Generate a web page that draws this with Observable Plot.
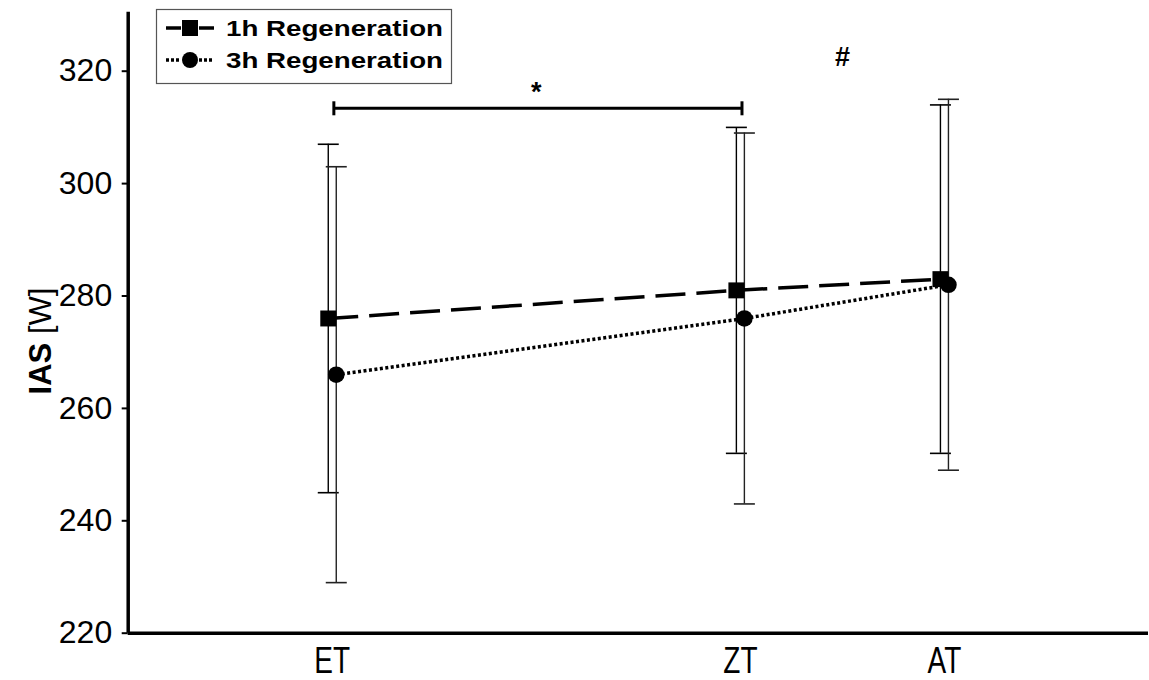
<!DOCTYPE html>
<html><head><meta charset="utf-8">
<script src="https://cdn.jsdelivr.net/npm/d3@7"></script>
<script src="https://cdn.jsdelivr.net/npm/@observablehq/plot@0.6"></script>
<style>
body{margin:0;background:#fff}
#chart svg{font-family:"Liberation Sans",Arial,sans-serif;overflow:visible}
</style>
</head><body><div id="chart"></div>
<script>
// ---- data ----
const timepoints = ["ET", "ZT", "AT"];
const xPos = [1, 3, 4];
const seriesNames = ["1h Regeneration", "3h Regeneration"];
const mean1h = [276, 281, 283];
const upper1h = [307, 310, 314];
const lower1h = [245, 252, 252];
const mean3h = [266, 276, 282];
const upper3h = [303, 309, 315];
const lower3h = [229, 243, 249];
const yTicks = [220, 240, 260, 280, 300, 320];
const bracketX = [1, 3];
const bracketY = 313.4;
const annoText = ["*", "#"];
const annoX = [2, 3.5];
const annoY = [316.2, 322.5];

const rows1 = timepoints.map((t, i) => ({t, x: xPos[i], mean: mean1h[i], lo: lower1h[i], hi: upper1h[i]}));
const rows3 = timepoints.map((t, i) => ({t, x: xPos[i], mean: mean3h[i], lo: lower3h[i], hi: upper3h[i]}));
const annos = annoText.map((s, i) => ({s, x: annoX[i], y: annoY[i]}));

const capSymbol = {draw(ctx, size) { const w = Math.sqrt(size / Math.PI); ctx.moveTo(-w, 0); ctx.lineTo(w, 0); }};
const barSymbol = {draw(ctx, size) { const w = Math.sqrt(size / Math.PI); ctx.moveTo(0, -w); ctx.lineTo(0, w); }};

function errMarks(rows, dx, color) {
  return [
    Plot.ruleX(rows, {x: "x", y1: "lo", y2: "hi", dx, stroke: color, strokeWidth: 1.4}),
    Plot.dot(rows, {x: "x", y: "hi", dx, symbol: capSymbol, r: 10.5, stroke: color, strokeWidth: 1.6, fill: "none"}),
    Plot.dot(rows, {x: "x", y: "lo", dx, symbol: capSymbol, r: 10.5, stroke: color, strokeWidth: 1.6, fill: "none"})
  ];
}

const chart = Plot.plot({
  width: 1149,
  height: 680,
  marginLeft: 127.7,
  marginRight: 1,
  marginTop: 14.5,
  marginBottom: 47.3,
  x: {domain: [0, 5], axis: null},
  y: {domain: [220, 330], axis: null},
  marks: [
    Plot.axisY({ticks: yTicks, tickSize: 6, tickPadding: 10, fontSize: 32, label: null, strokeWidth: 2, color: "#000"}),
    Plot.axisX({ticks: xPos, tickFormat: d => timepoints[xPos.indexOf(d)], tickSize: 0, tickPadding: 14, fontSize: 28, label: null, color: "#000"}),
    ...errMarks(rows1, -4, "#000"),
    ...errMarks(rows3, 4, "#222"),
    Plot.line(rows1, {x: "x", y: "mean", dx: -4, stroke: "#000", strokeWidth: 3.5, strokeDasharray: "30,11", strokeLinecap: "butt"}),
    Plot.line(rows3, {x: "x", y: "mean", dx: 4, stroke: "#000", strokeWidth: 3.5, strokeDasharray: "3,2.5", strokeLinecap: "butt"}),
    Plot.dot(rows1, {x: "x", y: "mean", dx: -4, symbol: "square", r: 9, fill: "#000"}),
    Plot.dot(rows3, {x: "x", y: "mean", dx: 4, symbol: "circle", r: 8.3, fill: "#000"}),
    // significance bracket
    Plot.ruleY([bracketY], {x1: bracketX[0], x2: bracketX[1], dx: 1.6, stroke: "#000", strokeWidth: 3}),
    Plot.dot(bracketX.map(x => ({x, y: bracketY})), {x: "x", y: "y", dx: 1.6, symbol: barSymbol, r: 7, stroke: "#000", strokeWidth: 3}),
    Plot.text(annos, {x: "x", y: "y", text: "s", fontSize: 27, fontWeight: "bold", fill: "#000"}),
    // axis lines
    Plot.ruleX([0], {stroke: "#000", strokeWidth: 3.5, y1: 220, y2: 330.5}),
    Plot.ruleY([220], {stroke: "#000", strokeWidth: 3.5})
  ]
});
document.getElementById("chart").appendChild(chart);

const svg = d3.select(chart);
// enforce tick label sizes
svg.selectAll('g[aria-label="y-axis tick label"]').attr("font-size", 32).selectAll("text").attr("font-size", 32);
svg.selectAll('g[aria-label="x-axis tick label"]').attr("font-size", 28).selectAll("text")
  .attr("font-size", 28)
  .attr("transform", function() { return (this.getAttribute("transform") || "") + " scale(1,1.3)"; });

// y-axis title
const yl = svg.append("text")
  .attr("transform", "translate(51,341) rotate(-90)")
  .attr("text-anchor", "middle")
  .attr("font-size", 31)
  .attr("fill", "#000");
yl.append("tspan").attr("font-weight", "bold").text("IAS");
yl.append("tspan").text(" [W]");

// legend
const lg = svg.append("g");
lg.append("rect").attr("x", 156.5).attr("y", 9.5).attr("width", 295).attr("height", 74)
  .attr("fill", "#fff").attr("stroke", "#555").attr("stroke-width", 1.2);
const legendRows = [
  {name: seriesNames[0], y: 28, dash: null, symbol: "square"},
  {name: seriesNames[1], y: 60, dash: "3,2", symbol: "circle"}
];
legendRows.forEach(r => {
  [[166, 181], [199, 214]].forEach(([a, b]) => {
    const ln = lg.append("line").attr("x1", a).attr("x2", b).attr("y1", r.y).attr("y2", r.y)
      .attr("stroke", "#000").attr("stroke-width", 3.5);
    if (r.dash) ln.attr("stroke-dasharray", r.dash);
  });
  if (r.symbol === "square") lg.append("rect").attr("x", 182).attr("y", r.y - 8).attr("width", 16).attr("height", 16).attr("fill", "#000");
  else lg.append("circle").attr("cx", 190).attr("cy", r.y).attr("r", 8).attr("fill", "#000");
  lg.append("text").attr("x", 226).attr("y", r.y + 8).attr("font-size", 22).attr("font-weight", "bold")
    .attr("text-anchor", "start").attr("textLength", 217).attr("lengthAdjust", "spacingAndGlyphs")
    .attr("fill", "#000").text(r.name);
});
</script>
</body></html>
